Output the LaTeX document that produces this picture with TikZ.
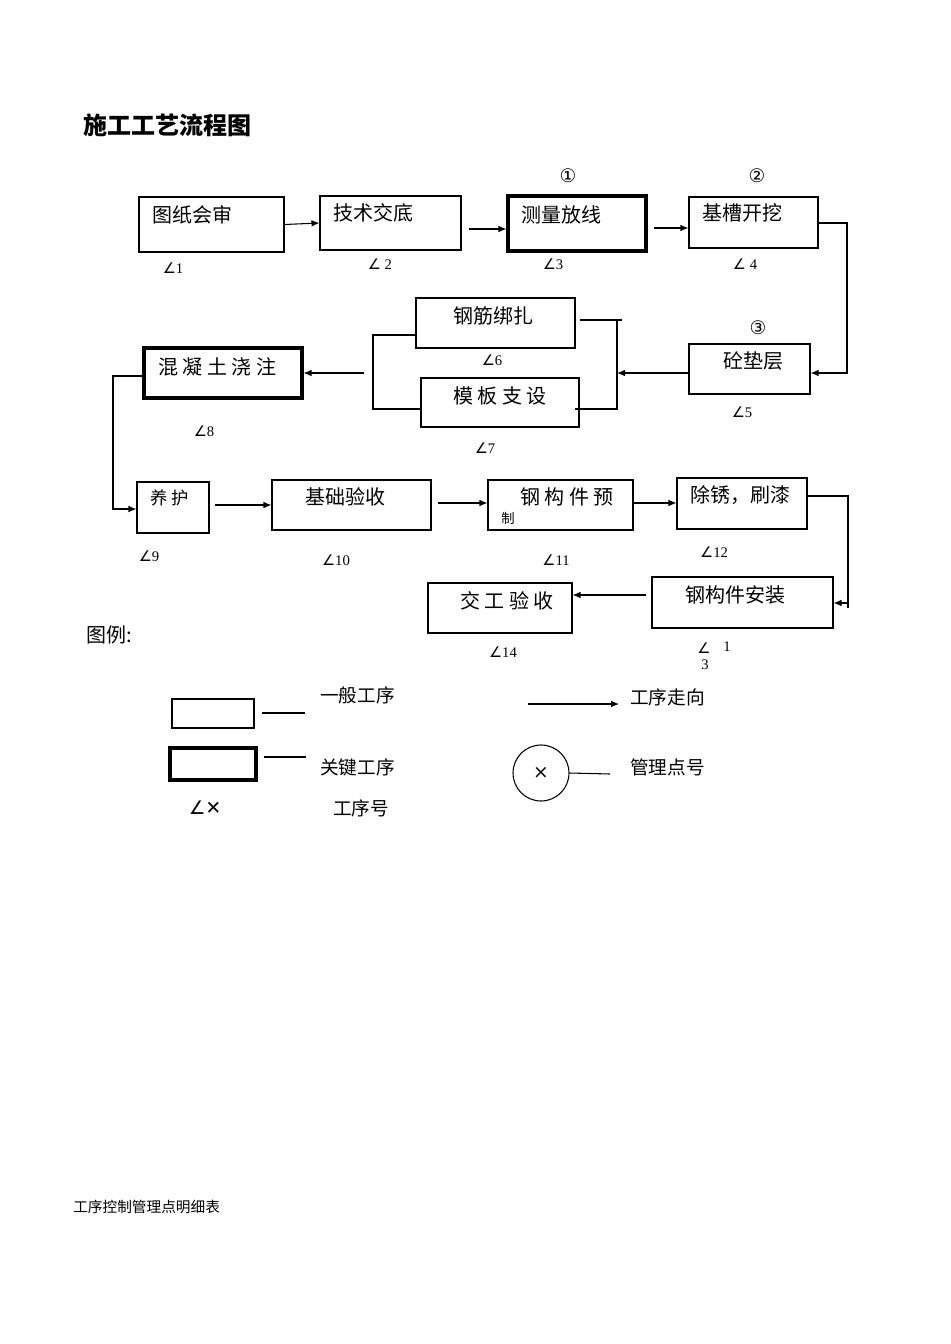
\documentclass[tikz,border=0pt]{standalone}
\usepackage{fontspec}
\setmainfont{Liberation Serif}
\newfontfamily\cjk{Noto Sans CJK SC}
\newfontfamily\dv{DejaVu Sans}
\usetikzlibrary{fit,arrows.meta}
\begin{document}
\begin{tikzpicture}[x=0.75pt,y=-0.75pt,
  box/.style={draw,line width=0.8pt,inner sep=0pt},
  kbox/.style={draw,line width=2.4pt,inner sep=0pt},
  txt/.style={anchor=west,inner sep=0pt,font=\cjk\fontsize{15}{18}\selectfont},
  num/.style={inner sep=0pt,font=\fontsize{11}{13}\selectfont},
  ln/.style={line width=0.8pt},
  ar/.style={line width=0.8pt,-{Latex[length=6pt,width=5pt]}}]
\useasboundingbox[fill=white] (0,0) rectangle (950,1344);
\node[anchor=west,inner sep=0pt,font=\cjk\bfseries\fontsize{18}{20}\selectfont] (title) at (83,125) {施工工艺流程图};
% boxes
\node[box,fit={(139,197)(284,252)}] (b1) {};
\node[box,fit={(320,196)(461,250)}] (b2) {};
\node[kbox,fit={(508,196)(646,251)}] (b3) {};
\node[box,fit={(689,197)(818,248)}] (b4) {};
\node[box,fit={(689,344)(810,394)}] (b5) {};
\node[box,fit={(416,298)(575,348)}] (b6) {};
\node[box,fit={(421,378)(579,427)}] (b7) {};
\node[kbox,fit={(144,348)(302,398)}] (b8) {};
\node[box,fit={(137,482)(209,533)}] (b9) {};
\node[box,fit={(272,480)(431,530)}] (b10) {};
\node[box,fit={(488,480)(633,530)}] (b11) {};
\node[box,fit={(677,478)(807,529)}] (b12) {};
\node[box,fit={(652,577)(833,628)}] (b13) {};
\node[box,fit={(428,583)(572,633)}] (b14) {};
% texts
\node[txt] (t1) at (152,215) {图纸会审};
\node[txt] (t2) at (333,213) {技术交底};
\node[txt] (t3) at (521,215) {测量放线};
\node[txt] (t4) at (702,213) {基槽开挖};
\node[txt] (t5) at (723,361) {砼垫层};
\node[txt] (t6) at (453,316) {钢筋绑扎};
\node[txt] (t7) at (453,396) {模\ 板\ 支\ 设};
\node[txt] (t8) at (158,367) {混\ 凝\ 土\ 浇\ 注};
\node[txt,font=\cjk\fontsize{13}{15}\selectfont] (t9) at (150,498) {养\ 护};
\node[txt] (t10) at (305,497) {基础验收};
\node[txt] (t11) at (520,497) {钢\ 构\ 件\ 预};
\node[txt,font=\cjk\fontsize{10}{12}\selectfont] (t11b) at (501,518) {制};
\node[txt] (t12) at (690,495) {除锈，刷漆};
\node[txt] (t13) at (685,595) {钢构件安装};
\node[txt] (t14) at (460,601) {交\ 工\ 验\ 收};
% circled numbers
\node[font=\dv\fontsize{14}{16}\selectfont,inner sep=0pt] (c1) at (568,176) {①};
\node[font=\dv\fontsize{14}{16}\selectfont,inner sep=0pt] (c2) at (757,176) {②};
\node[font=\dv\fontsize{14}{16}\selectfont,inner sep=0pt] (c3) at (758,328) {③};
% angle labels
\node[num] (n1) at (173,268) {{\dv∠}1};
\node[num] (n2) at (380,264) {{\dv∠} 2};
\node[num] (n3) at (553,264) {{\dv∠}3};
\node[num] (n4) at (745,264) {{\dv∠} 4};
\node[num] (n5) at (742,412) {{\dv∠}5};
\node[num] (n6) at (492,360) {{\dv∠}6};
\node[num] (n7) at (485,448) {{\dv∠}7};
\node[num] (n8) at (204,431) {{\dv∠}8};
\node[num] (n9) at (149,556) {{\dv∠}9};
\node[num] (n10) at (336,560) {{\dv∠}10};
\node[num] (n11) at (556,560) {{\dv∠}11};
\node[num] (n12) at (714,552) {{\dv∠}12};
\node[num] (n13a) at (704,648) {\dv∠};
\node[num] (n13b) at (727,647) {1};
\node[num] (n13c) at (705,665) {3};
\node[num] (n14) at (503,652) {{\dv∠}14};
% arrows
\draw[ar] (b1.east) -- (b2.west);
\draw[ar] (469,229) -- (b3.west|-0,229);
\draw[ar] (654,228) -- (b4.west|-0,228);
\coordinate (r4) at (847,223);
\draw[ar] (b4.east|-r4) -- (r4) -- (847,373) -- (b5.east|-0,373);
\coordinate (bj) at (617,373);
\draw[ar] (b5.west|-bj) -- (bj);
\draw[ln] (580,320) -- (622,320);
\draw[ln] (617,320) -- (617,409) -- (575,409);
\draw[ln] (b6.west|-0,335) -- (373,335) -- (373,409) -- (b7.west|-0,409);
\draw[ar] (364,373) -- (b8.east|-0,373);
\draw[ar] (b8.west|-0,376) -- (113,376) -- (113,509) -- (b9.west|-0,509);
\draw[ar] (215,505) -- (b10.west|-0,505);
\draw[ar] (438,503) -- (b11.west|-0,503);
\draw[ar] (b11.east|-0,503) -- (b12.west|-0,503);
\draw[ar] (b12.east|-0,496) -- (848,496) -- (848,608) (848,603) -- (b13.east|-0,603);
\draw[ar] (646,595) -- (b14.east|-0,595);
% legend
\node[txt] (lg) at (86,635) {图例:};
\node[box,fit={(172,699)(254,728)}] (l1) {};
\node[kbox,fit={(170,748)(256,780)}] (l2) {};
\draw[ln] (262,713) -- (305,713);
\draw[ln] (264,757) -- (306,757);
\node[txt,font=\cjk\fontsize{14}{16}\selectfont] (lt1) at (320,695) {一般工序};
\node[txt,font=\cjk\fontsize{14}{16}\selectfont] (lt2) at (320,767) {关键工序};
\node[txt,font=\cjk\fontsize{14}{16}\selectfont] (lt3) at (333,808) {工序号};
\node[font=\dv\fontsize{14}{16}\selectfont,inner sep=0pt] (lt4) at (205,808) {∠✕};
\draw[ar] (528,704) -- (619,704);
\node[txt,font=\cjk\fontsize{14}{16}\selectfont] (lt5) at (630,697) {工序走向};
\node[draw,circle,line width=0.8pt,minimum size=42,inner sep=0pt,font=\dv\fontsize{14}{16}\selectfont] (cc) at (541,773) {×};
\draw[ln] (cc.east) -- (610,774);
\node[txt,font=\cjk\fontsize{14}{16}\selectfont] (lt6) at (630,767) {管理点号};
\node[txt,font=\cjk\fontsize{11}{13}\selectfont] (foot) at (73,1207) {工序控制管理点明细表};
\end{tikzpicture}
\end{document}
